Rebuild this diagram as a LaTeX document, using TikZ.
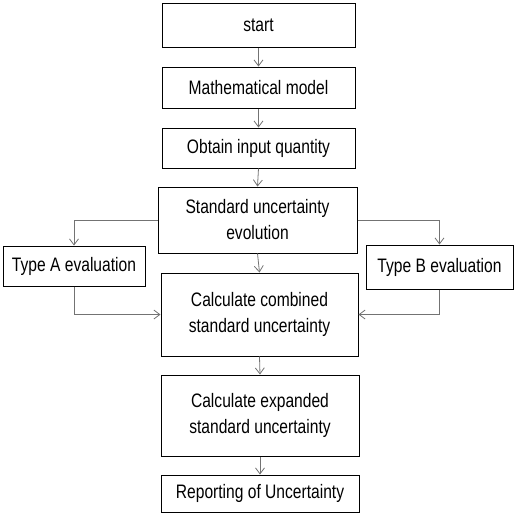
\documentclass[tikz,border=0pt]{standalone}
\usepackage{fontspec}
\setmainfont{Liberation Sans}[FakeStretch=0.8]
\usetikzlibrary{arrows.meta}
\begin{document}
\begin{tikzpicture}[x=1pt,y=-1pt,
  box/.style={draw=black,line width=1pt,fill=white,align=center,inner sep=0pt,
    font=\fontsize{19.5}{26}\selectfont},
  conn/.style={draw=black!55,line width=0.8pt,-{Straight Barb[length=6pt,width=9pt]}}]
\useasboundingbox (0,0) rectangle (515,523);
\node[box,minimum width=193pt,minimum height=44pt] (start) at (258.5,25) {start};
\node[box,minimum width=193pt,minimum height=41pt] (math) at (258.5,87.5) {Mathematical model};
\node[box,minimum width=193pt,minimum height=40pt] (obt) at (258.5,148) {Obtain input quantity};
\node[box,minimum width=199pt,minimum height=66pt] (sue) at (257.5,220) {Standard uncertainty\\evolution};
\node[box,minimum width=142pt,minimum height=40pt] (ta) at (74,266) {Type A evaluation};
\node[box,minimum width=147pt,minimum height=44pt] (tb) at (439.5,267) {Type B evaluation};
\node[box,minimum width=197pt,minimum height=83pt] (comb) at (259.5,314.5) {Calculate combined\\standard uncertainty};
\node[box,minimum width=198pt,minimum height=81pt] (exp) at (260,415.5) {Calculate expanded\\standard uncertainty};
\node[box,minimum width=198pt,minimum height=37pt] (rep) at (260,493.5) {Reporting of Uncertainty};
\draw[conn] (start.south) -- (math.north);
\draw[conn] (math.south) -- (obt.north);
\draw[conn] (obt.south) -- (sue.north);
\draw[conn] (sue.south) -- (comb.north);
\draw[conn] (sue.west) -| (ta.north);
\draw[conn] (sue.east) -| (tb.north);
\draw[conn] (ta.south) |- (comb.west);
\draw[conn] (tb.south) |- (comb.east);
\draw[conn] (comb.south) -- (exp.north);
\draw[conn] (exp.south) -- (rep.north);
\end{tikzpicture}
\end{document}
